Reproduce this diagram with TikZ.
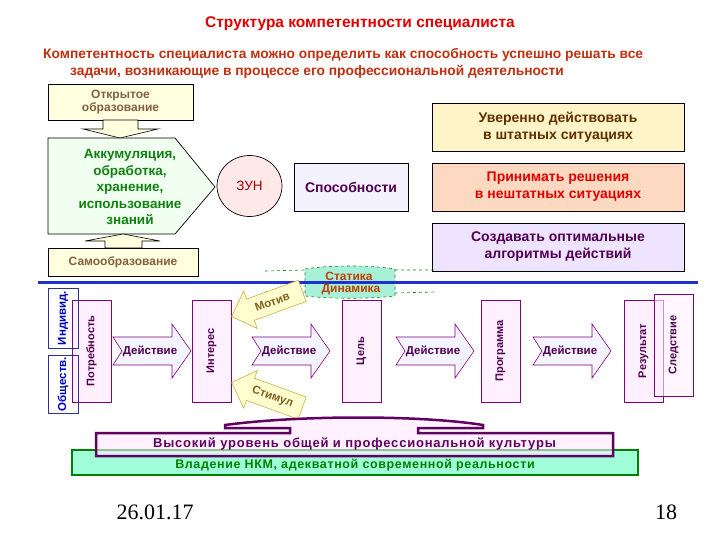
\documentclass[tikz,border=0pt]{standalone}
\usepackage{fontspec}
\setmainfont{Liberation Sans}
\newfontfamily\datefont{Liberation Serif}
\usetikzlibrary{shapes.arrows,shapes.geometric}
\definecolor{titlered}{HTML}{E00000}
\definecolor{subred}{HTML}{C03010}
\definecolor{olivetxt}{HTML}{806040}
\definecolor{yfill}{HTML}{FFFFE0}
\definecolor{accfill}{HTML}{F0FFF0}
\definecolor{acctxt}{HTML}{108010}
\definecolor{zunfill}{HTML}{FFE8E8}
\definecolor{zuntxt}{HTML}{A00000}
\definecolor{abilfill}{HTML}{F4F2FF}
\definecolor{darkpurple}{HTML}{500050}
\definecolor{onefill}{HTML}{FFF4C8}
\definecolor{onetxt}{HTML}{603000}
\definecolor{twofill}{HTML}{FCD9C0}
\definecolor{threefill}{HTML}{EEE4FF}
\definecolor{lineblue}{HTML}{2030D0}
\definecolor{aqua}{HTML}{A8F0D8}
\definecolor{dashgreen}{HTML}{208020}
\definecolor{statictxt}{HTML}{C04000}
\definecolor{bluetxt}{HTML}{0000C0}
\definecolor{blueborder}{HTML}{303090}
\definecolor{pinkbox}{HTML}{FFF0FF}
\definecolor{boxpurple}{HTML}{800080}
\definecolor{acttfill}{HTML}{F4F4FF}
\definecolor{motivfill}{HTML}{FFFFD0}
\definecolor{motivborder}{HTML}{C8B040}
\definecolor{motivtxt}{HTML}{806020}
\definecolor{culturefill}{HTML}{FFE8FF}
\definecolor{cultureline}{HTML}{600060}
\definecolor{nkmfill}{HTML}{A0FFD8}
\definecolor{nkmline}{HTML}{008000}
\tikzset{
  box/.style={draw, line width=0.7pt, align=center, inner sep=0pt, font=\bfseries\fontsize{14}{17}\selectfont},
  smallbox/.style={box, fill=yfill, text=olivetxt, font=\bfseries\fontsize{12}{13}\selectfont},
  vbox/.style={draw=boxpurple, line width=0.6pt, fill=pinkbox, text=darkpurple, rotate=90, minimum width=102pt, minimum height=39pt, inner sep=0pt, font=\bfseries\fontsize{11}{12}\selectfont},
  socbox/.style={draw=blueborder, line width=0.6pt, text=bluetxt, rotate=90, minimum height=30pt, inner sep=0pt, font=\bfseries\fontsize{11.5}{12}\selectfont},
  actarrow/.style={draw=boxpurple, line width=0.6pt, fill=acttfill},
  acttext/.style={text=darkpurple, font=\bfseries\fontsize{11.5}{12}\selectfont},
  yarrow/.style={single arrow, draw=motivborder, line width=0.6pt, fill=motivfill, text=motivtxt, minimum height=75pt, minimum width=40pt, single arrow head extend=8pt, inner xsep=4pt, inner ysep=6pt, font=\bfseries\fontsize{11.5}{12}\selectfont},
}
\begin{document}
\begin{tikzpicture}[x=1pt,y=-1pt]
\useasboundingbox[fill=white] (0,0) rectangle (720,540);
\node[text=titlered, font=\bfseries\fontsize{15.5}{17}\selectfont] (title) at (360,24) {Структура компетентности специалиста};
\node[anchor=west, text=subred, font=\bfseries\fontsize{13.8}{15}\selectfont, inner sep=0pt] (sub1) at (43,55) {Компетентность специалиста можно определить как способность успешно решать все};
\node[anchor=west, text=subred, font=\bfseries\fontsize{13.8}{15}\selectfont, inner sep=0pt] (sub2) at (70,72) {задачи, возникающие в процессе его профессиональной деятельности};
% knowledge block
\node[smallbox, minimum width=145pt, minimum height=36pt] (openedu) at (120.5,102) {Открытое\\образование};
\draw[line width=0.6pt, fill=yfill] (103,120) -- (138,120) -- (138,129) -- (158,129) -- (120,138) -- (83,129) -- (103,129) -- cycle;
\draw[line width=0.7pt, fill=accfill] (48,138) -- (175,138) -- (215,187) -- (175,234) -- (48,234) -- cycle;
\node[align=center, text=acctxt, font=\bfseries\fontsize{13.5}{16.5}\selectfont] (accum) at (130,187) {Аккумуляция,\\обработка,\\хранение,\\использование\\знаний};
\draw[line width=0.6pt, fill=yfill] (105,248) -- (142,248) -- (142,241) -- (160,241) -- (123,234) -- (85,241) -- (105,241) -- cycle;
\node[smallbox, minimum width=150pt, minimum height=28pt] (selfedu) at (123,262) {Самообразование};
\node[ellipse, draw, line width=0.7pt, fill=zunfill, text=zuntxt, minimum width=65pt, minimum height=61pt, font=\fontsize{13.5}{14}\selectfont] (zun) at (249.5,186) {ЗУН};
\node[box, fill=abilfill, text=darkpurple, minimum width=114pt, minimum height=48pt] (abil) at (351,187) {Способности};
\node[box, fill=onefill, text=onetxt, minimum width=252pt, minimum height=48pt] (confident) at (558,127) {Уверенно действовать\\в штатных ситуациях};
\node[box, fill=twofill, text=titlered, minimum width=252pt, minimum height=48pt] (decide) at (558,187) {Принимать решения\\в нештатных ситуациях};
\node[box, fill=threefill, text=darkpurple, minimum width=252pt, minimum height=48pt] (create) at (558,247) {Создавать оптимальные\\алгоритмы действий};
% statics / dynamics
\draw[dashgreen, dashed, line width=0.6pt] (265,271) -- (305,270) (265,292) -- (305,293) (395,270) -- (435,270) (395,293) -- (435,292);
\draw[dashgreen, dashed, line width=0.6pt, fill=aqua] (305,269) .. controls (330,265) and (370,265) .. (395,269) -- (395,296) .. controls (370,299) and (330,299) .. (305,296) -- cycle;
\draw[lineblue, line width=3pt] (38,282.5) -- (698,282.5);
\node[text=statictxt, font=\bfseries\fontsize{12}{13}\selectfont] (statics) at (349,276.5) {Статика};
\node[text=statictxt, font=\bfseries\fontsize{12}{13}\selectfont] (dynamics) at (351,290) {Динамика};
% process chain
\foreach \x/\name/\txt in {72/need/Потребность, 192/interest/Интерес, 342/goal/Цель, 481/program/Программа, 624/result/Результат}
  \node[vbox] (\name) at (\x+19.5,351) {\txt};
\node[vbox, fill opacity=0.6, text opacity=1] (effect) at (673.5,345) {Следствие};
\node[socbox, minimum width=60pt] (indiv) at (63,318) {Индивид.};
\node[socbox, minimum width=58pt] (society) at (63,384) {Обществ.};
\foreach \x in {113,252,396,533} {
  \draw[actarrow] (\x,337) -- (\x+59,337) -- (\x+59,324) -- (\x+78,351) -- (\x+59,378) -- (\x+59,365) -- (\x,365) -- (\x+9,351) -- cycle;
  \node[acttext] at (\x+37,351) {Действие};
}
\node[yarrow, rotate=20, shape border rotate=180, anchor=tip] (motive) at ([yshift=-17pt]interest.south east) {Мотив};
\node[yarrow, rotate=-20, shape border rotate=180, anchor=tip] (stimulus) at ([yshift=20pt]interest.south west) {Стимул};
% culture
\node[draw=nkmline, line width=2.5pt, fill=nkmfill, minimum width=566pt, minimum height=25pt, inner sep=0pt] (nkm) at (355,462.5) {};
\draw[cultureline, line width=2.5pt, fill=culturefill, fill opacity=0.6] (96,433) -- (290,433) -- (290,428) -- (225,428) -- (225,425) .. controls (300,415) and (420,415) .. (483,425) -- (483,428) -- (418,428) -- (418,433) -- (613,433) -- (613,456) -- (96,456) -- cycle;
\node[text=nkmline, font=\bfseries\fontsize{12.5}{13}\selectfont\addfontfeature{LetterSpace=5}] (nkmtext) at (355,465) {Владение НКМ, адекватной современной реальности};
\node[text=cultureline, font=\bfseries\fontsize{13}{13}\selectfont\addfontfeature{LetterSpace=6}] (culture) at (354.5,444) {Высокий уровень общей и профессиональной культуры};
\node[font=\datefont\fontsize{22}{24}\selectfont] (date) at (155,512) {26.01.17};
\node[font=\datefont\fontsize{22}{24}\selectfont] (page) at (666,512) {18};
\end{tikzpicture}
\end{document}
